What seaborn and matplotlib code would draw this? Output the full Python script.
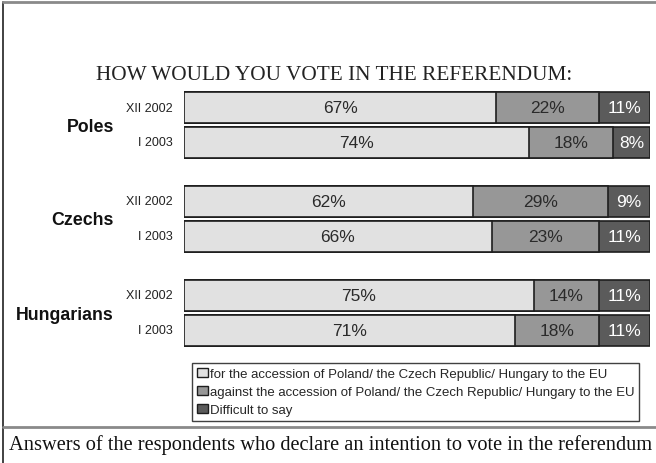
import matplotlib
matplotlib.use("Agg")
import matplotlib.pyplot as plt
import matplotlib.patches as mpatches
from matplotlib.lines import Line2D
import pandas as pd
import seaborn as sns

# values (percent)
groups = ["Poles", "Czechs", "Hungarians"]
periods = ["XII 2002", "I 2003"]
forShare = [67, 74, 62, 66, 75, 71]
againstShare = [22, 18, 29, 23, 14, 18]
difficultShare = [11, 8, 9, 11, 11, 11]
legendLabels = [
    "for the accession of Poland/ the Czech Republic/ Hungary to the EU",
    "against the accession of Poland/ the Czech Republic/ Hungary to the EU",
    "Difficult to say",
]

colors = ["#e1e1e1", "#979797", "#5b5b5b"]
edge = "#1e1e1e"


def runChart() -> None:
    sns.set_theme(style="white")
    plt.rcParams["font.family"] = ["Liberation Sans", "DejaVu Sans"]

    W, H = 656, 464
    fig = plt.figure(figsize=(W / 100, H / 100), dpi=100)
    # axes in pixel units vertically, percent horizontally
    ax = fig.add_axes([184 / W, 0, 466 / W, 1])

    # row centres (pixels from top)
    groupStep, rowStep, firstRow = 94, 35, 108.5
    rows = []
    for g, grp in enumerate(groups):
        for p, per in enumerate(periods):
            rows.append((grp, per, firstRow + g * groupStep + p * rowStep))
    df = pd.DataFrame(rows, columns=["group", "period", "ypos"])
    df["for"] = forShare
    df["against"] = againstShare
    df["difficult"] = difficultShare
    df["c1"] = df["for"]
    df["c2"] = df["for"] + df["against"]
    df["c3"] = df["c2"] + df["difficult"]

    barW = 31 / rowStep
    for col, color in zip(["c3", "c2", "c1"], colors[::-1]):
        sns.barplot(
            data=df, x=col, y="ypos", orient="h", native_scale=True,
            width=barW, color=color, edgecolor=edge, linewidth=1.2,
            saturation=1, ax=ax,
        )

    ax.set_xlim(0, 100)
    ax.set_ylim(H, 0)
    ax.axis("off")

    # segment labels
    pctSize = 12.5
    for _, r in df.iterrows():
        ax.text(r["for"] / 2, r["ypos"], f"{r['for']}%", ha="center", va="center",
                fontsize=pctSize, color="#2a2a2a")
        ax.text(r["c1"] + r["against"] / 2, r["ypos"], f"{r['against']}%",
                ha="center", va="center", fontsize=pctSize, color="#2a2a2a")
        ax.text(r["c2"] + r["difficult"] / 2, r["ypos"], f"{r['difficult']}%",
                ha="center", va="center", fontsize=pctSize, color="white")

    # period and group labels
    for _, r in df.iterrows():
        fig.text(173 / W, 1 - r["ypos"] / H, r["period"], ha="right", va="center",
                 fontsize=9, color="#222222")
    for grp in groups:
        ys = df.loc[df["group"] == grp, "ypos"]
        fig.text(114 / W, 1 - (ys.mean() + 1) / H, grp, ha="right", va="center",
                 fontsize=12.8, fontweight="bold", color="#111111")

    # title and caption
    fig.text(334 / W, 1 - 75 / H, "HOW WOULD YOU VOTE IN THE REFERENDUM:",
             ha="center", va="center", fontsize=15.3, color="#222222",
             family=["Liberation Serif", "DejaVu Serif"])
    fig.text(9 / W, 1 - 445 / H,
             "Answers of the respondents who declare an intention to vote in the referendum",
             ha="left", va="center", fontsize=14.7, color="#111111",
             family=["Liberation Serif", "DejaVu Serif"])

    # legend
    handles = [mpatches.Patch(facecolor=c, edgecolor=edge, linewidth=1) for c in colors]
    leg = fig.legend(
        handles, legendLabels, loc="upper left",
        bbox_to_anchor=(192 / W, 1 - 364 / H), frameon=True, fancybox=False,
        fontsize=9.5, handlelength=0.85, handleheight=0.7, handletextpad=0.15,
        labelspacing=0.45, borderpad=0.35, borderaxespad=0,
    )
    leg.get_frame().set_edgecolor("#111111")
    leg.get_frame().set_linewidth(1)

    # frame lines
    fig.add_artist(Line2D([3 / W, 3 / W], [0, 1 - 3 / H], color="#333333", lw=1.3))
    fig.add_artist(Line2D([3 / W, 1], [1 - 3 / H, 1 - 3 / H], color="#8a8a8a", lw=2))
    fig.add_artist(Line2D([3 / W, 1], [1 - 428 / H, 1 - 428 / H], color="#8a8a8a", lw=2))

    fig.savefig("out.png", dpi=100)
    plt.close(fig)


if __name__ == "__main__":
    runChart()
